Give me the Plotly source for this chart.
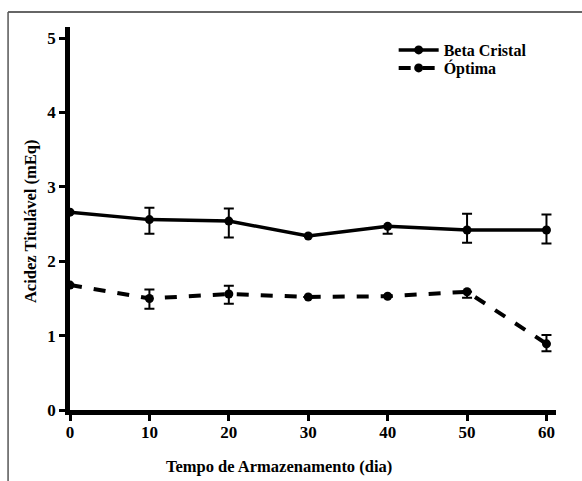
import plotly.graph_objects as go

dias = [0, 10, 20, 30, 40, 50, 60]

beta = [2.66, 2.56, 2.54, 2.34, 2.47, 2.42, 2.42]
beta_err_plus = [0, 0.16, 0.17, 0, 0, 0.22, 0.21]
beta_err_minus = [0, 0.19, 0.22, 0, 0.10, 0.17, 0.18]

optima = [1.68, 1.50, 1.56, 1.52, 1.53, 1.59, 0.89]
optima_err_plus = [0, 0.12, 0.11, 0, 0, 0, 0.12]
optima_err_minus = [0, 0.14, 0.13, 0, 0, 0.08, 0.10]

x_ticks = [0, 10, 20, 30, 40, 50, 60]
y_ticks = [0, 1, 2, 3, 4, 5]

FONT = "Liberation Serif"

fig = go.Figure()
fig.add_trace(go.Scatter(
    x=dias, y=beta, name="Beta Cristal", mode="lines+markers",
    line=dict(color="black", width=3.5),
    marker=dict(color="black", size=9),
    error_y=dict(type="data", symmetric=False, array=beta_err_plus,
                 arrayminus=beta_err_minus, color="black", thickness=2, width=5),
    cliponaxis=False, legend="legend",
))
fig.add_trace(go.Scatter(
    x=dias, y=optima, name="Óptima", mode="lines+markers",
    line=dict(color="black", width=4, dash="dash"),
    marker=dict(color="black", size=9),
    error_y=dict(type="data", symmetric=False, array=optima_err_plus,
                 arrayminus=optima_err_minus, color="black", thickness=2, width=5),
    cliponaxis=False, legend="legend2",
))

L, T = 70, 27
W, H = 582, 481
R = 25.5
pw = W - L - R
ph = 410 - T

def px(xp):
    return (xp - L) / pw

def py(yp):
    return (410 - yp) / ph

leg_common = dict(xanchor="left", yanchor="middle", bgcolor="rgba(0,0,0,0)",
                  font=dict(size=16, family=FONT, weight="bold", color="black"),
                  itemwidth=40, borderwidth=0)

fig.update_layout(
    width=W, height=H,
    margin=dict(l=L, r=R, t=T, b=H - 410, pad=0),
    paper_bgcolor="white", plot_bgcolor="white",
    font=dict(family=FONT, size=16, color="black", weight="bold"),
    showlegend=True,
    legend=dict(x=px(394), y=py(50), **leg_common),
    legend2=dict(x=px(394), y=py(68), **leg_common),
    xaxis=dict(range=[0, 61.2], tickvals=x_ticks, ticktext=[str(v) for v in x_ticks],
               showgrid=False, zeroline=False, showline=True, linecolor="black",
               linewidth=4.5, ticks="outside", ticklen=6, tickwidth=2.5,
               ticklabelstandoff=-3,
               tickcolor="black", tickfont=dict(size=17, family=FONT, weight="bold")),
    yaxis=dict(range=[0, 5.15], tickvals=y_ticks, ticktext=[str(v) for v in y_ticks],
               showgrid=False, zeroline=False, showline=True, linecolor="black",
               linewidth=4.5, ticks="outside", ticklen=6, tickwidth=2.5,
               tickcolor="black", tickfont=dict(size=17, family=FONT, weight="bold")),
    annotations=[
        dict(text="Tempo de Armazenamento (dia)", xref="paper", yref="paper",
             x=px(279), y=py(466), showarrow=False, xanchor="center", yanchor="middle",
             font=dict(size=16.5, family=FONT, weight="bold")),
        dict(text="Acidez Titulável (mEq)", xref="paper", yref="paper",
             x=px(30), y=py(222), showarrow=False, textangle=-90,
             xanchor="center", yanchor="middle",
             font=dict(size=16.5, family=FONT, weight="bold")),
    ],
    shapes=[
        dict(type="line", xref="paper", yref="paper",
             x0=px(8), x1=px(600), y0=py(12), y1=py(12),
             line=dict(color="#333333", width=1.5)),
        dict(type="line", xref="paper", yref="paper",
             x0=px(8), x1=px(8), y0=py(12), y1=py(500),
             line=dict(color="#555555", width=1.5)),
    ],
)

fig.write_html("out.html", config={"displayModeBar": False},
               post_script="document.body.style.margin='0px';document.body.style.overflow='hidden';")
